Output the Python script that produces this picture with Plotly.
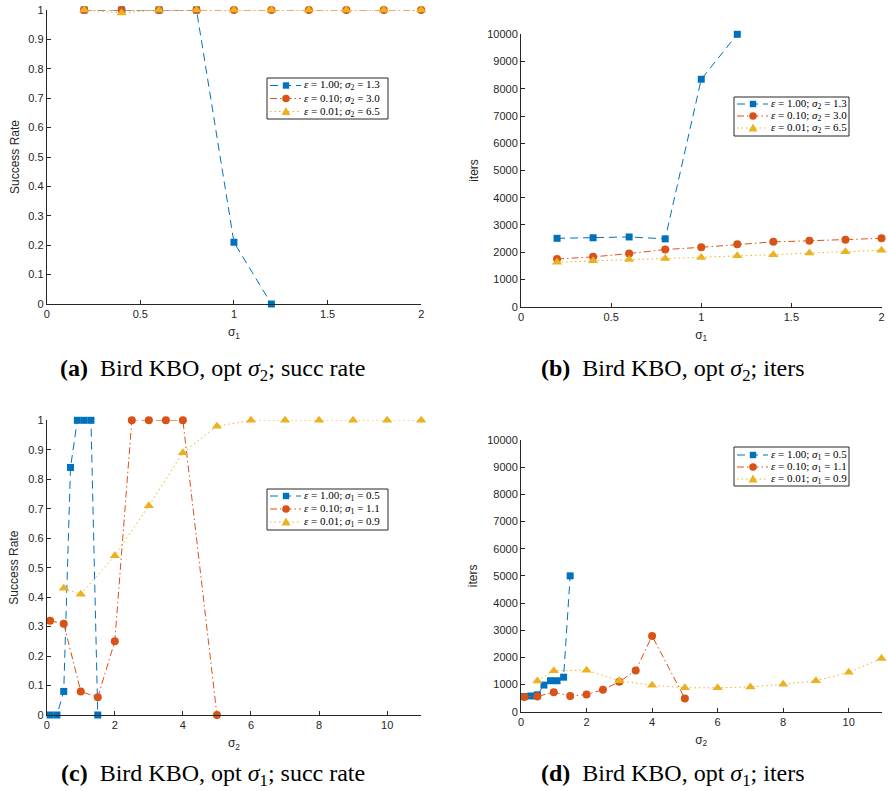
import plotly.graph_objects as go

# ---------------- data ----------------
# (a) / (b): x = sigma_1
a_x_blue = [0.2, 0.4, 0.6, 0.8, 1.0, 1.2]
a_x_full = [0.2, 0.4, 0.6, 0.8, 1.0, 1.2, 1.4, 1.6, 1.8, 2.0]
a_blue = [1, 1, 1, 1, 0.21, 0]
a_red = [1, 1, 1, 1, 1, 1, 1, 1, 1, 1]
a_yel = [1, 0.99, 1, 1, 1, 1, 1, 1, 1, 1]

b_blue = [2510, 2530, 2560, 2490, 8350, 10000]
b_red = [1750, 1830, 1950, 2100, 2180, 2290, 2380, 2420, 2460, 2510]
b_yel = [1630, 1690, 1730, 1770, 1810, 1870, 1910, 1970, 2020, 2070]

# (c) / (d): x = sigma_2
c_x_blue = [0.1, 0.3, 0.5, 0.7, 0.9, 1.1, 1.3, 1.5]
c_x_red = [0.1, 0.5, 1.0, 1.5, 2.0, 2.5, 3.0, 3.5, 4.0, 5.0]
c_x_yel = [0.5, 1, 2, 3, 4, 5, 6, 7, 8, 9, 10, 11]
c_blue = [0, 0, 0.08, 0.84, 1, 1, 1, 0]
c_red = [0.32, 0.31, 0.08, 0.06, 0.25, 1, 1, 1, 1, 0]
c_yel = [0.43, 0.41, 0.54, 0.71, 0.89, 0.98, 1, 1, 1, 1, 1, 1]

d_blue = [560, 580, 620, 980, 1140, 1140, 1270, 5000]
d_red = [540, 560, 720, 580, 630, 810, 1100, 1520, 2790, 490]
d_yel = [1130, 1510, 1530, 1140, 970, 880, 880, 910, 1010, 1140, 1450, 1960]

leg_top = ["<i>ε</i> = 1.00; <i>σ</i><sub>2</sub> = 1.3",
           "<i>ε</i> = 0.10; <i>σ</i><sub>2</sub> = 3.0",
           "<i>ε</i> = 0.01; <i>σ</i><sub>2</sub> = 6.5"]
leg_bot = ["<i>ε</i> = 1.00; <i>σ</i><sub>1</sub> = 0.5",
           "<i>ε</i> = 0.10; <i>σ</i><sub>1</sub> = 1.1",
           "<i>ε</i> = 0.01; <i>σ</i><sub>1</sub> = 0.9"]

captions = ["<b>(a)</b>  Bird KBO, opt <i>σ</i><sub>2</sub>; succ rate",
            "<b>(b)</b>  Bird KBO, opt <i>σ</i><sub>2</sub>; iters",
            "<b>(c)</b>  Bird KBO, opt <i>σ</i><sub>1</sub>; succ rate",
            "<b>(d)</b>  Bird KBO, opt <i>σ</i><sub>1</sub>; iters"]

BLUE = "#0072BD"
RED = "#D95319"
YEL = "#EDB120"
AXC = "#262626"
W, H = 888, 791

fig = go.Figure()

DASH = "8px,5px"
DASHDOT = "7px,3px,1.5px,3px"
DOT = "1.5px,3px"
styles = [(BLUE, DASH, "square", 7), (RED, DASHDOT, "circle", 8), (YEL, DOT, "triangle-up", 9)]


def add(series, xa, ya):
    for (xs, ys), (c, d, m, s) in zip(series, styles):
        fig.add_trace(go.Scatter(
            x=xs, y=ys, mode="lines+markers", showlegend=False,
            line=dict(color=c, dash=d, width=1),
            marker=dict(color=c, symbol=m, size=s),
            xaxis=xa, yaxis=ya, cliponaxis=False))


add([(a_x_blue, a_blue), (a_x_full, a_red), (a_x_full, a_yel)], "x", "y")
add([(a_x_blue, b_blue), (a_x_full, b_red), (a_x_full, b_yel)], "x2", "y2")
add([(c_x_blue, c_blue), (c_x_red, c_red), (c_x_yel, c_yel)], "x3", "y3")
add([(c_x_blue, d_blue), (c_x_red, d_red), (c_x_yel, d_yel)], "x4", "y4")


def px_x(p):
    return p / W


def px_y(p):
    return 1 - p / H


tickfont = dict(family="Liberation Sans, Arial", size=11, color=AXC)
axcommon = dict(showline=True, linecolor=AXC, linewidth=1, ticks="inside", ticklen=4,
                tickcolor=AXC, showgrid=False, zeroline=False, tickfont=tickfont,
                mirror=False, automargin=False)

xdom_l = [px_x(46.7), px_x(421.2)]
xdom_r = [px_x(521), px_x(881.5)]

xtfont = dict(family="Liberation Sans, Arial", size=12, color=AXC)
xtitle1 = dict(text="σ<sub>1</sub>", font=xtfont, standoff=8)
xtitle2 = dict(text="σ<sub>2</sub>", font=xtfont, standoff=8)
ytfont = dict(family="Liberation Sans, Arial", size=12, color=AXC)

fig.update_layout(
    width=W, height=H, margin=dict(l=0, r=0, t=0, b=0, autoexpand=False),
    paper_bgcolor="white", plot_bgcolor="white", showlegend=False,
    xaxis=dict(domain=xdom_l, range=[0, 2], tickvals=[0, 0.5, 1, 1.5, 2],
               ticktext=["0", "0.5", "1", "1.5", "2"], anchor="y", title=xtitle1, **axcommon),
    yaxis=dict(domain=[px_y(304), px_y(10)], range=[0, 1], dtick=0.1, anchor="x",
               title=dict(text="Success Rate", font=ytfont, standoff=6), **axcommon),
    xaxis2=dict(domain=xdom_r, range=[0, 2], tickvals=[0, 0.5, 1, 1.5, 2],
                ticktext=["0", "0.5", "1", "1.5", "2"], anchor="y2", title=xtitle1, **axcommon),
    yaxis2=dict(domain=[px_y(306.7), px_y(34.3)], range=[0, 10000], dtick=1000, anchor="x2",
                tickformat="d",
                title=dict(text="iters", font=ytfont, standoff=6), **axcommon),
    xaxis3=dict(domain=xdom_l, range=[0, 11], tickvals=[0, 2, 4, 6, 8, 10], anchor="y3",
                title=xtitle2, **axcommon),
    yaxis3=dict(domain=[px_y(715), px_y(420.3)], range=[0, 1], dtick=0.1, anchor="x3",
                title=dict(text="Success Rate", font=ytfont, standoff=6), **axcommon),
    xaxis4=dict(domain=xdom_r, range=[0, 11], tickvals=[0, 2, 4, 6, 8, 10], anchor="y4",
                title=xtitle2, **axcommon),
    yaxis4=dict(domain=[px_y(711.7), px_y(440)], range=[0, 10000], dtick=1000, anchor="x4",
                tickformat="d",
                title=dict(text="iters", font=ytfont, standoff=6), **axcommon),
)

# ---------------- hand-drawn legends (pixel layout) ----------------
legfont = dict(family="Liberation Serif, Times New Roman", size=11, color="#000")


def legend_box(x0, x1, y0, y1, rows, labels):
    fig.add_shape(type="rect", xref="paper", yref="paper",
                  x0=px_x(x0), x1=px_x(x1), y0=px_y(y1), y1=px_y(y0),
                  line=dict(color=AXC, width=1), fillcolor="white", layer="above")
    for (c, d, m, s), ry, lab in zip(styles, rows, labels):
        lx0, lx1 = x0 + 3, x0 + 34
        mx = x0 + 19
        fig.add_shape(type="line", xref="paper", yref="paper",
                      x0=px_x(lx0), x1=px_x(lx1), y0=px_y(ry), y1=px_y(ry),
                      line=dict(color=c, width=1, dash=d), layer="above")
        if m == "square":
            r = 3.2
            fig.add_shape(type="rect", xref="paper", yref="paper",
                          x0=px_x(mx - r), x1=px_x(mx + r), y0=px_y(ry + r), y1=px_y(ry - r),
                          line=dict(width=0), fillcolor=c, layer="above")
        elif m == "circle":
            r = 3.8
            fig.add_shape(type="circle", xref="paper", yref="paper",
                          x0=px_x(mx - r), x1=px_x(mx + r), y0=px_y(ry + r), y1=px_y(ry - r),
                          line=dict(width=0), fillcolor=c, layer="above")
        else:
            r = 4.5
            path = "M {} {} L {} {} L {} {} Z".format(
                px_x(mx - r), px_y(ry + r * 0.8), px_x(mx + r), px_y(ry + r * 0.8),
                px_x(mx), px_y(ry - r))
            fig.add_shape(type="path", xref="paper", yref="paper", path=path,
                          line=dict(width=0), fillcolor=c, layer="above")
        fig.add_annotation(text=lab, x=px_x(x0 + 35), y=px_y(ry), xref="paper", yref="paper",
                           showarrow=False, font=legfont, xanchor="left", yanchor="middle")


legend_box(267, 388, 78, 119, [85.5, 98.5, 111.5], leg_top)
legend_box(734, 849, 97, 136, [104, 116, 128], leg_top)
legend_box(267, 388, 489, 530, [496, 509, 522], leg_bot)
legend_box(734, 849, 447, 486, [455, 467, 479], leg_bot)

capfont = dict(family="Liberation Serif, Times New Roman", size=24, color="#000")
for txt, cx, cy in zip(captions, [213, 673, 213, 673], [370, 370, 775, 775]):
    fig.add_annotation(text=txt, x=px_x(cx), y=px_y(cy), xref="paper", yref="paper",
                       showarrow=False, font=capfont, xanchor="center", yanchor="middle")

fig.write_html("out.html",
               config={"displayModeBar": False},
               post_script="document.body.style.margin='0';document.body.style.padding='0';"
                           "document.body.style.overflow='hidden';")
